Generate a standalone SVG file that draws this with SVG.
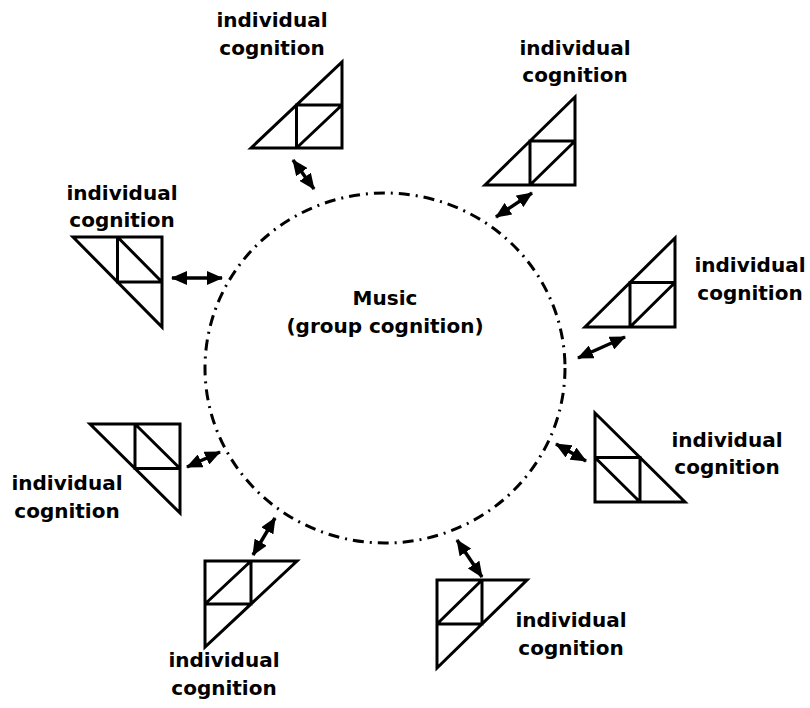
<svg xmlns="http://www.w3.org/2000/svg" width="810" height="708" viewBox="0 0 810 708">
<style>
.bg{fill:#fff}
.ring{fill:none;stroke:#000;stroke-width:3;stroke-dasharray:11 6 2 6}
.tri{fill:none;stroke:#000;stroke-width:3;stroke-linejoin:miter}
.lbl{font-family:"DejaVu Sans","Verdana",sans-serif;font-weight:bold;font-size:20px;fill:#000;text-anchor:middle}
.arr{fill:none;stroke:#000;stroke-width:3.5;marker-start:url(#ah);marker-end:url(#ah)}
</style>
<defs>
<marker id="ah" markerUnits="userSpaceOnUse" markerWidth="16" markerHeight="14" refX="15" refY="7" orient="auto-start-reverse" viewBox="0 0 16 14">
<path d="M0,0 L16,7 L0,14 z" fill="#000"/>
</marker>
</defs>
<rect class="bg" x="0" y="0" width="810" height="708"/>
<g id="music">
<ellipse class="ring" cx="385" cy="368" rx="180" ry="175"/>
<text class="lbl" x="385" y="305">Music</text>
<text class="lbl" x="385" y="333">(group cognition)</text>
</g>
<g id="connectors">
<line class="arr" x1="293" y1="160" x2="314" y2="189"/>
<line class="arr" x1="532" y1="193" x2="496" y2="217"/>
<line class="arr" x1="172" y1="278" x2="222" y2="278"/>
<line class="arr" x1="625" y1="337" x2="578" y2="358"/>
<line class="arr" x1="220" y1="452" x2="187" y2="467"/>
<line class="arr" x1="556" y1="444" x2="586" y2="461"/>
<line class="arr" x1="275" y1="518" x2="253" y2="555"/>
<line class="arr" x1="457" y1="540" x2="482" y2="577"/>
</g>
<g id="node1">
<path class="tri" d="M251,148 L342,62 L342,148 Z M296.5,148 V105 H342 M296.5,148 L342,105"/>
<text class="lbl" x="272" y="27">individual</text>
<text class="lbl" x="272" y="55">cognition</text>
</g>
<g id="node2">
<path class="tri" d="M485,185 L575,97 L575,185 Z M530,185 V141 H575 M530,185 L575,141"/>
<text class="lbl" x="575" y="55">individual</text>
<text class="lbl" x="575" y="82">cognition</text>
</g>
<g id="node3">
<path class="tri" d="M73,237 L162,237 L162,327 Z M117.5,237 V282 H162 M117.5,237 L162,282"/>
<text class="lbl" x="122" y="200">individual</text>
<text class="lbl" x="122" y="227">cognition</text>
</g>
<g id="node4">
<path class="tri" d="M585,327 L675,238 L675,327 Z M630,327 V282.5 H675 M630,327 L675,282.5"/>
<text class="lbl" x="750" y="272">individual</text>
<text class="lbl" x="750" y="300">cognition</text>
</g>
<g id="node5">
<path class="tri" d="M90,424 L180,424 L180,513 Z M135,424 V468.5 H180 M135,424 L180,468.5"/>
<text class="lbl" x="67" y="490">individual</text>
<text class="lbl" x="67" y="518">cognition</text>
</g>
<g id="node6">
<path class="tri" d="M595,413 L595,502 L685,502 Z M640,502 V457.5 H595 M640,502 L595,457.5"/>
<text class="lbl" x="727" y="447">individual</text>
<text class="lbl" x="727" y="474">cognition</text>
</g>
<g id="node7">
<path class="tri" d="M205,647 L205,561 L297,561 Z M251,561 V604 H205 M251,561 L205,604"/>
<text class="lbl" x="224" y="667">individual</text>
<text class="lbl" x="224" y="695">cognition</text>
</g>
<g id="node8">
<path class="tri" d="M437,668 L437,580 L527,580 Z M482,580 V624 H437 M482,580 L437,624"/>
<text class="lbl" x="571" y="627">individual</text>
<text class="lbl" x="571" y="655">cognition</text>
</g>
</svg>
